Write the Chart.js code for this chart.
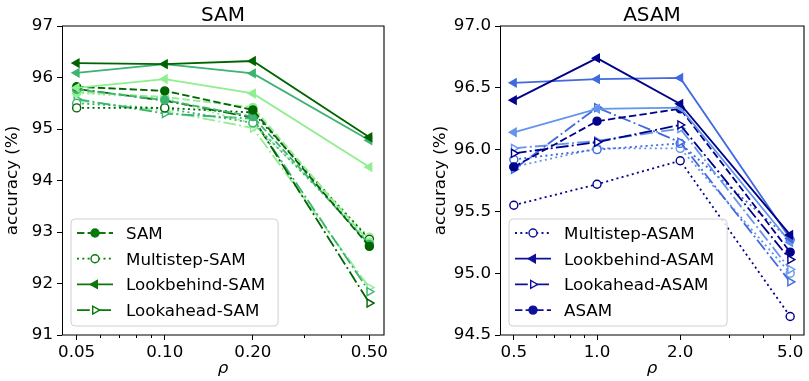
<!DOCTYPE html>
<html>
<head>
<meta charset="utf-8">
<script src="https://cdn.jsdelivr.net/npm/chart.js"></script>
<style>
html, body { margin: 0; padding: 0; background: #fff; overflow: hidden; }
#boxSam { position: absolute; left: 0; top: 0; width: 400px; height: 381px; }
#boxAsam { position: absolute; left: 400px; top: 0; width: 410px; height: 381px; }
</style>
</head>
<body>
<div id="boxSam"><canvas id="samCanvas"></canvas></div>
<div id="boxAsam"><canvas id="asamCanvas"></canvas></div>
<script>
// valori di rho sull'asse x
var rhoSam = [0.05, 0.10, 0.20, 0.50];
var rhoAsam = [0.5, 1.0, 2.0, 5.0];
var rhoSamLabels = ['0.05', '0.10', '0.20', '0.50'];
var rhoAsamLabels = ['0.5', '1.0', '2.0', '5.0'];
var rhoSamMinor = [0.06, 0.07, 0.08, 0.09, 0.3, 0.4];
var rhoAsamMinor = [0.6, 0.7, 0.8, 0.9, 3, 4];

// accuratezza (%) - pannello SAM, tre tonalità (scura, media, chiara)
var samDark = [95.82, 95.74, 95.37, 92.72];
var samMid = [95.77, 95.56, 95.24, 92.76];
var samLight = [95.72, 95.62, 95.42, 92.80];
var multiSamDark = [95.41, 95.41, 95.32, 92.86];
var multiSamMid = [95.50, 95.40, 95.12, 92.84];
var multiSamLight = [95.70, 95.60, 95.10, 92.90];
var behindSamDark = [96.28, 96.26, 96.32, 94.84];
var behindSamMid = [96.09, 96.26, 96.08, 94.78];
var behindSamLight = [95.80, 95.97, 95.69, 94.26];
var aheadSamDark = [95.78, 95.55, 95.22, 91.62];
var aheadSamMid = [95.58, 95.30, 95.20, 91.84];
var aheadSamLight = [95.55, 95.35, 95.02, 91.92];

// accuratezza (%) - pannello ASAM
var multiAsamDark = [95.55, 95.72, 95.91, 94.65];
var multiAsamMid = [95.92, 96.00, 96.05, 95.27];
var multiAsamLight = [95.86, 96.01, 96.01, 95.00];
var behindAsamDark = [96.40, 96.74, 96.37, 95.31];
var behindAsamMid = [96.54, 96.57, 96.58, 95.28];
var behindAsamLight = [96.14, 96.33, 96.34, 95.25];
var aheadAsamDark = [95.97, 96.06, 96.20, 95.11];
var aheadAsamMid = [95.84, 96.34, 96.06, 94.93];
var aheadAsamLight = [96.01, 96.07, 96.17, 95.03];
var asamDark = [95.86, 96.23, 96.33, 95.17];

var verdi = ['#006400', '#3cb371', '#90ee90'];
var blu = ['#00008b', '#4169e1', '#6495ed'];

// stili di linea e marker per ogni metodo
var stili = {
    base: { dash: [7.4, 3.2], point: 'circle', rot: 0, filled: true },
    multistep: { dash: [2, 3.3], point: 'circle', rot: 0, filled: false },
    lookbehind: { dash: [], point: 'triangle', rot: -90, filled: true },
    lookahead: { dash: [12.8, 3.2, 2, 3.2], point: 'triangle', rot: 90, filled: false }
};

var FONT = 'DejaVu Sans';
Chart.defaults.font.family = FONT;
Chart.defaults.font.size = 16.7;
Chart.defaults.color = '#000';

function makeDataset(label, xs, ys, colore, stile) {
    return {
        label: label,
        data: xs.map(function (x, i) { return { x: x, y: ys[i] }; }),
        borderColor: colore,
        borderWidth: 1.8,
        borderDash: stile.dash,
        fill: false,
        tension: 0,
        pointStyle: stile.point,
        pointRotation: stile.rot,
        pointRadius: stile.point === 'circle' ? 4 : 4.6,
        pointBorderWidth: 1.4,
        pointBorderColor: colore,
        pointBackgroundColor: stile.filled ? colore : '#fff'
    };
}

function disegnaMarker(ctx, stile, x, y, r, colore) {
    ctx.save();
    ctx.beginPath();
    if (stile.point === 'circle') {
        ctx.arc(x, y, r, 0, 2 * Math.PI);
    } else {
        var rad = stile.rot * Math.PI / 180;
        for (var k = 0; k < 3; k++) {
            var px = x + Math.sin(rad) * r;
            var py = y - Math.cos(rad) * r;
            if (k === 0) ctx.moveTo(px, py); else ctx.lineTo(px, py);
            rad += 2 * Math.PI / 3;
        }
        ctx.closePath();
    }
    ctx.setLineDash([]);
    ctx.fillStyle = stile.filled ? colore : '#fff';
    ctx.fill();
    ctx.lineWidth = 1.4;
    ctx.strokeStyle = colore;
    ctx.stroke();
    ctx.restore();
}

function roundRect(ctx, x, y, w, h, r) {
    ctx.beginPath();
    ctx.moveTo(x + r, y);
    ctx.arcTo(x + w, y, x + w, y + h, r);
    ctx.arcTo(x + w, y + h, x, y + h, r);
    ctx.arcTo(x, y + h, x, y, r);
    ctx.arcTo(x, y, x + w, y, r);
    ctx.closePath();
}

// plugin: cornice, tacche minori, titolo e legenda stile matplotlib
var cornice = {
    id: 'cornice',
    afterDraw: function (chart, args, opts) {
        var ctx = chart.ctx;
        var a = chart.chartArea;
        var xs = chart.scales.x;
        ctx.save();

        // bordi degli assi
        ctx.setLineDash([]);
        ctx.strokeStyle = '#000';
        ctx.lineWidth = 1;
        ctx.beginPath();
        ctx.moveTo(Math.round(a.left) + 0.5, a.top);
        ctx.lineTo(Math.round(a.left) + 0.5, a.bottom);
        ctx.stroke();
        ctx.lineWidth = 1.1;
        ctx.beginPath();
        ctx.moveTo(a.left, a.top);
        ctx.lineTo(a.right, a.top);
        ctx.lineTo(a.right, a.bottom);
        ctx.lineTo(a.left, a.bottom);
        ctx.stroke();

        // tacche minori
        ctx.lineWidth = 1;
        opts.minor.forEach(function (v) {
            var px = Math.round(xs.getPixelForValue(v)) + 0.5;
            ctx.beginPath();
            ctx.moveTo(px, a.bottom);
            ctx.lineTo(px, a.bottom + 3);
            ctx.stroke();
        });

        // titolo centrato sull'area del grafico
        ctx.fillStyle = '#000';
        ctx.font = '20px "' + FONT + '"';
        ctx.textAlign = 'center';
        ctx.textBaseline = 'alphabetic';
        ctx.fillText(opts.title, (a.left + a.right) / 2, 20.5);

        // legenda
        ctx.font = '16.7px "' + FONT + '"';
        var maxW = 0;
        opts.legend.forEach(function (e) { maxW = Math.max(maxW, ctx.measureText(e[0]).width); });
        var bw = 55 + maxW + 13;
        var bh = 107;
        var bx = a.left + 9;
        var by = a.bottom - 9 - bh;
        roundRect(ctx, bx, by, bw, bh, 4);
        ctx.fillStyle = 'rgba(255,255,255,0.85)';
        ctx.fill();
        ctx.strokeStyle = '#d0d0d0';
        ctx.lineWidth = 1;
        ctx.stroke();
        opts.legend.forEach(function (e, i) {
            var stile = stili[e[1]];
            var cy = by + 14 + i * 25.7;
            ctx.strokeStyle = opts.color;
            ctx.lineWidth = 1.8;
            ctx.setLineDash(stile.dash);
            ctx.beginPath();
            ctx.moveTo(bx + 6, cy);
            ctx.lineTo(bx + 42, cy);
            ctx.stroke();
            disegnaMarker(ctx, stile, bx + 24, cy, stile.point === 'circle' ? 4 : 4.6, opts.color);
            ctx.fillStyle = '#000';
            ctx.textAlign = 'left';
            ctx.textBaseline = 'alphabetic';
            ctx.fillText(e[0], bx + 55, cy + 6);
        });
        ctx.restore();
    }
};

function creaGrafico(canvasId, cfg) {
    var majors = cfg.rho;
    var ticksAll = majors.concat(cfg.minor).sort(function (p, q) { return p - q; });
    return new Chart(document.getElementById(canvasId), {
        type: 'line',
        data: { datasets: cfg.datasets },
        plugins: [cornice],
        options: {
            animation: false,
            responsive: true,
            maintainAspectRatio: false,
            layout: { padding: { top: 26, right: cfg.padRight, bottom: 0, left: 0 } },
            plugins: {
                legend: { display: false },
                title: { display: false },
                tooltip: { enabled: false },
                cornice: { title: cfg.title, legend: cfg.legend, minor: cfg.minor, color: cfg.legendColor }
            },
            scales: {
                x: {
                    type: 'logarithmic',
                    bounds: 'data',
                    min: cfg.xMin,
                    max: cfg.xMax,
                    afterBuildTicks: function (axis) {
                        axis.ticks = ticksAll.map(function (v) { return { value: v, major: majors.indexOf(v) >= 0 }; });
                    },
                    afterFit: function (axis) {
                        axis.height = 46;
                        axis.paddingLeft = 0;
                        axis.paddingRight = 0;
                    },
                    ticks: {
                        autoSkip: false,
                        maxRotation: 0,
                        padding: 3,
                        callback: function (value) {
                            var i = majors.indexOf(value);
                            return i >= 0 ? cfg.rhoLabels[i] : '';
                        }
                    },
                    grid: {
                        drawOnChartArea: false,
                        tickLength: 5,
                        tickColor: function (c) {
                            return c.tick && majors.indexOf(c.tick.value) >= 0 ? '#000' : 'rgba(0,0,0,0)';
                        }
                    },
                    border: { display: false },
                    title: { display: true, text: 'ρ', font: { style: 'italic', size: 16.7 }, padding: { top: 0, bottom: 2 } }
                },
                y: {
                    min: cfg.yMin,
                    max: cfg.yMax,
                    afterFit: function (axis) { axis.width = cfg.yWidth; },
                    ticks: {
                        stepSize: cfg.yStep,
                        padding: 4,
                        callback: function (v) { return cfg.yDecimals ? v.toFixed(1) : String(v); }
                    },
                    grid: { drawOnChartArea: false, tickLength: 5, tickColor: '#000' },
                    border: { display: false },
                    title: { display: true, text: 'accuracy (%)', padding: { top: cfg.yTitlePad, bottom: 0 } }
                }
            }
        }
    });
}

creaGrafico('samCanvas', {
    title: 'SAM',
    rho: rhoSam,
    rhoLabels: rhoSamLabels,
    minor: rhoSamMinor,
    xMin: 0.04456,
    xMax: 0.5610,
    yMin: 91,
    yMax: 97,
    yStep: 1,
    yDecimals: false,
    yWidth: 62,
    yTitlePad: 3,
    padRight: 16,
    legendColor: '#0a780a',
    legend: [['SAM', 'base'], ['Multistep-SAM', 'multistep'], ['Lookbehind-SAM', 'lookbehind'], ['Lookahead-SAM', 'lookahead']],
    datasets: [
        makeDataset('Lookbehind-SAM', rhoSam, behindSamDark, verdi[0], stili.lookbehind),
        makeDataset('Lookbehind-SAM', rhoSam, behindSamMid, verdi[1], stili.lookbehind),
        makeDataset('Lookbehind-SAM', rhoSam, behindSamLight, verdi[2], stili.lookbehind),
        makeDataset('SAM', rhoSam, samDark, verdi[0], stili.base),
        makeDataset('SAM', rhoSam, samMid, verdi[1], stili.base),
        makeDataset('SAM', rhoSam, samLight, verdi[2], stili.base),
        makeDataset('Multistep-SAM', rhoSam, multiSamDark, verdi[0], stili.multistep),
        makeDataset('Multistep-SAM', rhoSam, multiSamMid, verdi[1], stili.multistep),
        makeDataset('Multistep-SAM', rhoSam, multiSamLight, verdi[2], stili.multistep),
        makeDataset('Lookahead-SAM', rhoSam, aheadSamDark, verdi[0], stili.lookahead),
        makeDataset('Lookahead-SAM', rhoSam, aheadSamMid, verdi[1], stili.lookahead),
        makeDataset('Lookahead-SAM', rhoSam, aheadSamLight, verdi[2], stili.lookahead)
    ]
});

creaGrafico('asamCanvas', {
    title: 'ASAM',
    rho: rhoAsam,
    rhoLabels: rhoAsamLabels,
    minor: rhoAsamMinor,
    xMin: 0.4456,
    xMax: 5.610,
    yMin: 94.5,
    yMax: 97.0,
    yStep: 0.5,
    yDecimals: true,
    yWidth: 100,
    yTitlePad: 31,
    padRight: 0,
    legendColor: '#10109a',
    legend: [['Multistep-ASAM', 'multistep'], ['Lookbehind-ASAM', 'lookbehind'], ['Lookahead-ASAM', 'lookahead'], ['ASAM', 'base']],
    datasets: [
        makeDataset('Lookbehind-ASAM', rhoAsam, behindAsamDark, blu[0], stili.lookbehind),
        makeDataset('Lookbehind-ASAM', rhoAsam, behindAsamMid, blu[1], stili.lookbehind),
        makeDataset('Lookbehind-ASAM', rhoAsam, behindAsamLight, blu[2], stili.lookbehind),
        makeDataset('ASAM', rhoAsam, asamDark, blu[0], stili.base),
        makeDataset('Lookahead-ASAM', rhoAsam, aheadAsamDark, blu[0], stili.lookahead),
        makeDataset('Lookahead-ASAM', rhoAsam, aheadAsamMid, blu[1], stili.lookahead),
        makeDataset('Lookahead-ASAM', rhoAsam, aheadAsamLight, blu[2], stili.lookahead),
        makeDataset('Multistep-ASAM', rhoAsam, multiAsamDark, blu[0], stili.multistep),
        makeDataset('Multistep-ASAM', rhoAsam, multiAsamMid, blu[1], stili.multistep),
        makeDataset('Multistep-ASAM', rhoAsam, multiAsamLight, blu[2], stili.multistep)
    ]
});
</script>
</body>
</html>
